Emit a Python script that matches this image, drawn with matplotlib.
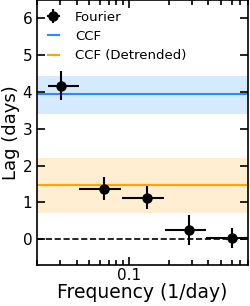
import numpy as np
import matplotlib.pyplot as plt

# fourier lags
freq = np.array([0.0305, 0.0646, 0.137, 0.285, 0.604])
freq_lo = np.array([0.0243, 0.0418, 0.0885, 0.187, 0.384])
freq_hi = np.array([0.0418, 0.087, 0.184, 0.383, 0.95])
lag = np.array([4.17, 1.37, 1.13, 0.25, 0.03])
lag_err = np.array([0.40, 0.31, 0.31, 0.40, 0.28])

# ccf lags
ccf = 3.94
ccf_lo, ccf_hi = 3.40, 4.43
ccf_dt = 1.46
ccf_dt_lo, ccf_dt_hi = 0.71, 2.21

fig = plt.figure(figsize=(2.5, 3.06), dpi=100)
ax = fig.add_axes([0.148, 0.134, 0.844, 0.866])

ax.axhspan(ccf_lo, ccf_hi, color='#1E90FF', alpha=0.18, lw=0)
ax.axhline(ccf, color='#1E90FF', lw=1.5, label='CCF')
ax.axhspan(ccf_dt_lo, ccf_dt_hi, color='orange', alpha=0.18, lw=0)
ax.axhline(ccf_dt, color='orange', lw=1.5, label='CCF (Detrended)')
ax.axhline(0, color='k', ls='--', lw=1.2)

xerr = [freq - freq_lo, freq_hi - freq]
ax.errorbar(freq, lag, xerr=xerr, yerr=lag_err, fmt='o', color='k',
            ms=6.5, lw=1.5, label='Fourier')

ax.set_xscale('log')
ax.set_xlim(0.02, 0.8)
ax.set_ylim(-0.7, 6.5)
ax.set_yticks([0, 1, 2, 3, 4, 5, 6])
ax.set_xticks([0.1])
ax.set_xticklabels(['0.1'])
ax.tick_params(which='both', direction='in', top=True, right=True, labelsize=11)
ax.tick_params(axis='x', pad=2)
ax.tick_params(which='major', length=6, width=1.2)
ax.tick_params(which='minor', length=3.5, width=1.2)
for s in ax.spines.values():
    s.set_linewidth(1.2)

ax.set_xlabel('Frequency (1/day)', fontsize=13.5, labelpad=0)
ax.set_ylabel('Lag (days)', fontsize=13, labelpad=2)

h, l = ax.get_legend_handles_labels()
order = [l.index('Fourier'), l.index('CCF'), l.index('CCF (Detrended)')]
ax.legend([h[i] for i in order], [l[i] for i in order], loc='upper left',
          frameon=False, fontsize=9.5, borderaxespad=0.3, borderpad=0.5,
          handlelength=0.9, handletextpad=1.18, labelspacing=0.48)

fig.savefig('out.png', dpi=100)
